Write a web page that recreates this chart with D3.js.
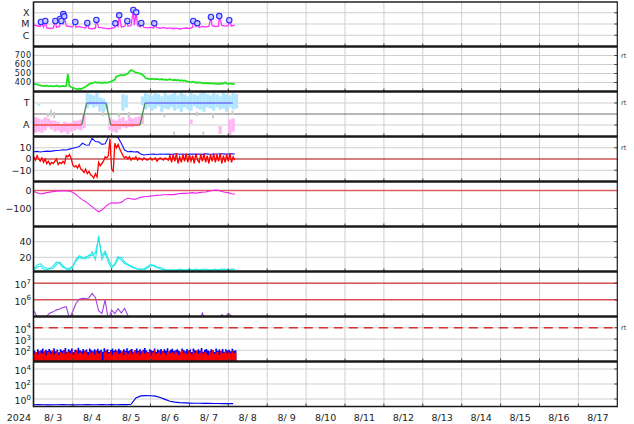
<!DOCTYPE html>
<html><head><meta charset="utf-8">
<script src="https://cdn.jsdelivr.net/npm/d3@7"></script>
<style>body{margin:0;background:#fff}svg{display:block;font-family:'DejaVu Sans',sans-serif}</style>
</head><body><svg id="c" width="634" height="424"></svg>
<script>
// ---------------- DATA ----------------
const yearLabel = "2024";
const dayLabels = ["8/ 3","8/ 4","8/ 5","8/ 6","8/ 7","8/ 8","8/ 9","8/10","8/11","8/12","8/13","8/14","8/15","8/16","8/17"];

// X-ray flux (W/m2), 2-hour background + flare peaks
const xrayStep = 2;
const xrayBg = [8e-6,7e-6,6e-6,5.5e-6,4.5e-6,4e-6,4.5e-6,5e-6,6e-6,9e-6,
  7e-6,6e-6,5.5e-6,5e-6,6e-6,5e-6,4.5e-6,4e-6,3.8e-6,4.2e-6,
  5e-6,4.5e-6,4e-6,3.8e-6,4.2e-6,5e-6,6e-6,5.5e-6,6e-6,6.5e-6,
  7e-6,8e-6,7e-6,5.5e-6,5e-6,4.5e-6,5e-6,4.5e-6,4.8e-6,4.2e-6,
  5e-6,4e-6,4.5e-6,3.8e-6,4.2e-6,3.6e-6,4e-6,4.4e-6,4e-6,5e-6,
  6e-6,5e-6,6e-6,5.5e-6,6e-6,7e-6,6e-6,6.5e-6,7.5e-6,6.5e-6,
  7e-6,6.5e-6,8e-6];
const flareHours = [4.4,7.1,13.3,16.2,17.0,18.2,18.8,25.6,33.0,38.6,50.3,52.7,57.7,61.4,63.2,66.3,74.3,98.4,100.9,109.3,114.4,120.6];
const flareFlux = [1.5e-5,1.85e-5,1.85e-5,2.8e-5,1.85e-5,7.7e-5,4.8e-5,1.5e-5,1.23e-5,2.3e-5,1.15e-5,5.9e-5,1.85e-5,1.75e-4,1.1e-4,1.23e-5,1.15e-5,1.85e-5,1.15e-5,4.2e-5,5.1e-5,2.15e-5];

// Solar wind speed (km/s), hourly
const windStep = 1;
const wind = [386,382,378,372,368,364, 362,360,364,358,360,362, 358,360,364,360,356,360,
  362,358,362,494,360,350, 342,336,330,326,332,328, 334,344,352,366,380,388,
  394,400,404,396,402,398, 394,398,402,396,400,406, 412,424,430,468,472,480,
  484,478,486,490,500,520, 538,530,520,512,506,500, 496,488,470,450,444,440,
  436,442,438,434,440,436, 432,438,430,434,428,432, 436,430,426,430,424,428,
  420,426,418,422,414,410, 406,402,410,404,400,396, 402,398,394,392,396,390,
  394,388,392,386,390,384, 388,384,392,386,402,388, 384,390,386,382,388];

// IMF sector (T = +1, A = -1), 2-hour ranges
const phiStep = 2;
const phiBlueHi = [null,0.9,null,null,null,null,null,null,null,null,null,null,null,null,null,null,
  1.9,1.8,1.7,1.9,1.5,1.4,1.1,null,null,null,null,1.8,1.7,null,null,null,null,1.6,
  1.9,1.8,1.7,1.9,1.8,1.6,1.9,1.7,1.8,2.0,1.7,1.9,1.8,1.6,1.9,1.8,1.7,1.9,2.0,1.8,1.7,1.9,1.8,1.6,1.9,1.8,1.7,1.9,1.8];
const phiBlueLo = [null,0.75,null,null,null,null,null,null,null,null,null,null,null,null,null,null,
  0.5,0.8,0.6,0.7,0.3,0.2,0.4,null,null,null,null,0.3,0.6,null,null,null,null,0.8,
  0.4,0.6,0.3,0.5,0.7,0.2,0.5,0.4,0.6,0.3,0.5,0.2,0.6,0.4,0.3,0.7,0.5,0.4,0.2,0.6,0.5,0.3,0.6,0.4,0.5,0.2,0.6,0.4,0.5];
const phiPinkHi = [-0.3,-0.4,-0.5,-0.3,-0.4,-0.6,-0.6,-0.7,-0.9,-0.7,-0.8,-0.8,-0.6,-0.6,-0.5,-0.1,
  null,null,null,null,null,null,null,-0.4,-0.5,-0.6,-0.4,-0.3,-0.6,-0.3,-0.4,-0.3,-0.2,-0.1,
  null,null,null,null,null,null,null,null,null,null,null,null,null,null,-0.5,
  null,null,null,null,null,null,null,null,-1.1,null,null,-0.5,-0.4,null];
const phiPinkLo = [-1.7,-1.6,-1.7,-1.5,-1.2,-1.4,-1.6,-1.5,-1.7,-1.6,-1.8,-1.6,-1.5,-1.4,-1.5,-1.3,
  null,null,null,null,null,null,null,-1.5,-1.6,-1.7,-1.4,-1.2,-1.3,-1.2,-1.2,-1.1,-1.0,-0.9,
  null,null,null,null,null,null,null,null,null,null,null,null,null,null,-0.9,
  null,null,null,null,null,null,null,null,-1.8,null,null,-1.9,-1.6,null];
const grayHours = [8,10,12,40,42,52,58,72,80,86,90,100,104,110,116,122];
const grayHi = [0.1,0.4,0.2,0.9,0.5,0.1,0.2,2.0,0.1,-1.6,2.0,0.2,-1.6,0.1,2.0,0.3];
const grayLo = [-0.3,-0.2,-0.4,0.2,-0.2,-0.3,-0.4,1.8,-0.3,-1.9,1.7,-0.2,-1.9,-0.4,1.8,-0.1];
const sectorHours = [0,29.5,32.6,44.5,47.6,65.5,68.6,122.7];
const sectorVals = [-1,-1,1,1,-1,-1,1,1];

// IMF Bt (2-hour) and Bz (hourly), nT
const btStep = 2;
const bt = [6.5,6.8,6.2,6.6,7.0,6.8,7.2,7.5,7.8,8.2,8.0,
  8.8,9.5,10.2,11.0,14.0,12.5,12.2,18.4,15.5,15.2,
  13.0,13.5,19.5,21,21,19.0,14.0,8.0,6.5,6.8,
  6.2,6.5,4.5,3.6,4.0,4.2,
  4.3,4.0,4.4,4.2,4.5,4.1,4.3,4.6,4.2,4.4,4.0,4.3,4.5,4.2,4.4,4.1,4.6,4.3,4.2,4.5,4.4,4.7,4.3,4.5,4.6,4.4];
const bzStep = 1;
const bz = [2,-1,3,0,-2,1, -3,0,-4,-2,-5,-3, -4,-2,0,-5,-3,-4, -2,-4,3,2,4,1,
  -5,-7,-6,-8,-5,-9, -10,-12,-9,-13,-11,-14, -15,-17,-13,-16,-3,-6, -4,-2,2,1,3,18,
  -9,-11,14,10,13,9, 6,3,1,2,0,2, -1,1,0,2,-1,1, 0,-1,1,0,-1,0, 1,-1,0,1,-2,0,
  1,0,-1,1,0,-1, 3,-3,4,-2,5,-4, 2,-3,4,-2,5,-3, 4,-2,3,-4,5,-1, -3,4,-2,5,-3,3,
  -4,4,-2,5,-3,4, -2,5,-4,3,-3,4, -2,5,-3,2,-1];

// Dst index (nT), 2-hour
const dstStep = 2;
const dst = [-6,-12,-19,-16,-12,-9,-6,-4,-2,-1, -3,-4,-10,-22,-38,-52,-62,-76,-90,-105,
  -118,-108,-92,-76,-68,-70,-69,-66,-52,-43, -46,-49,-44,-38,-35,-33,-31,-29,-27,-26,
  -24,-24,-22,-23,-20,-17,-15,-16,-14,-12, -15,-12,-10,-8,-4,0,3,1,-6,-10, -12,-18,-20];

// Sixth panel (two series), 2-hour
const cyanStep = 2;
const cyanA = [6,10,12,8,6,6,9,14,12,7, 6,6,9,15,20,18,21,19,27,17, 48,17,26,14,6,12,21,16,12,10,
  8,6,5,4,4,6,9,10,8,7, 5,4,3,4,3,4,3,4,5,3, 4,3,5,4,3,4,5,3,4,5, 4,5,4];
const cyanB = [4,7,9,5,4,5,6,11,14,9, 5,4,7,17,22,20,18,23,22,26, 44,22,28,18,9,10,18,20,14,11,
  9,7,5,5,5,8,11,9,7,5, 4,3,4,3,4,5,4,3,4,4, 5,4,3,5,4,3,4,4,5,4, 3,4,5];

// Electron flux, 2-hour
const elecStep = 2;
const elec = [2.2e5,1.0e5,5e4,5e4,1.1e5,1.6e5,1.9e5,2.5e5,2.8e5,3.5e5,
  3.9e5,8e4,2.0e5,6.0e5,1.1e6,1.25e6,1.2e6,1.3e6,2.4e6,1.4e6,
  2.2e5,1.5e5,9.8e5,6e4,2.4e5,1.5e5,2.9e5,1.6e5,3.1e5,1.2e5,
  5e4,5e4,5e4,5e4,5e4,5e4,5e4,5e4,5e4,5e4,5e4,5e4,5e4,5e4,5e4,5e4,5e4,5e4,5e4,5e4,5e4,5e4,
  1.6e5,5e4,5e4,5e4,5e4,5e4,1.3e5,9e4,1.5e5,1.1e5,5e4];

// Eighth panel (two series), hourly
const p8Step = 1;
const p8Red = [55,70,40,85,60,48,90,35,66,72, 50,95,44,60,80,38,70,56,100,45,
  62,75,52,88,40,65,110,50,72,58, 46,92,64,36,78,54,68,42,85,60,
  50,74,12,66,90,48,58,80,40,70, 62,95,46,56,84,38,72,60,50,88,
  44,66,105,52,76,40,62,90,48,70, 56,82,35,64,98,50,60,76,44,86,
  58,40,70,92,54,66,48,80,62,38, 74,100,52,68,46,84,60,42,78,56,
  95,50,64,88,44,70,58,36,82,60, 105,48,66,74,40,90,56,62,80,46, 70,52,86,58,64];
const p8Blue = [90,60,120,75,100,140,70,110,85,130, 95,70,150,80,115,65,125,90,105,160,
  75,120,95,140,70,110,85,170,100,80, 130,90,115,70,145,100,80,125,95,135,
  85,110,75,150,95,120,70,105,140,90, 115,80,135,100,70,125,90,150,85,110,
  130,75,100,145,90,120,80,110,160,95, 70,125,100,85,140,75,115,95,130,80,
  120,90,150,70,110,135,85,100,125,90, 75,140,105,80,130,95,115,70,145,100,
  85,120,90,160,75,110,130,95,80,125, 100,70,140,90,115,85,130,75,120,95, 110,80,135,90,100];

// Ninth panel, 3-hour
const p9Step = 3;
const p9 = [0.17,0.18,0.17,0.16,0.17,0.17,0.18,0.17,0.16,0.17,
  0.17,0.18,0.17,0.17,0.18,0.17,0.18,0.17,0.18,0.18,
  0.2,1.4,2.6,2.8,2.7,2.4,1.6,0.9,0.5,0.38,
  0.32,0.3,0.28,0.27,0.27,0.26,0.26,0.25,0.25,0.24, 0.25,0.24];

// ---------------- DRAW ----------------
const HOUR = 3600e3, DAY = 24*HOUR, T0 = Date.UTC(2024,7,3);
const th = h => new Date(T0 + h*HOUR);
const ser = (arr, step) => arr.map((v,i)=>({h:i*step, v}));
const svg = d3.select("#c");
const X0 = 33.8, X1 = 617.3, PH = 45;
const x = d3.scaleUtc().domain([new Date(T0), new Date(T0+15*DAY)]).range([X0, X1]);
const ptop = i => 1.5 + i*PH;
const GRID = "#cfcfcf", TXT = "#222";

const panels = [
  {s:d3.scaleLog().domain([1e-7,1e-3]), grid:[1e-6,1e-5,1e-4], labels:[[1e-4,"X"],[1e-5,"M"],[1e-6,"C"]], lx:29.5},
  {s:d3.scaleLinear().domain([300,800]), grid:[400,500,600,700], labels:[[700,"700"],[600,"600"],[500,"500"],[400,"400"]], fs:8, ls:0.5},
  {s:d3.scaleLinear().domain([-2.045,2.045]), grid:[1,-1], labels:[[1,"T"],[-1,"A"]], lx:29.5},
  {s:d3.scaleLinear().domain([-20,20]), grid:[10,-10], labels:[[10,"10"],[0,"0"],[-10,"\u221210"]]},
  {s:d3.scaleLinear().domain([-200,50]), grid:[-100], labels:[[0,"0"],[-100,"\u2212100"]]},
  {s:d3.scaleLinear().domain([1.8,59.5]), grid:[20,40], labels:[[40,"40"],[20,"20"]]},
  {s:d3.scaleLog().domain([1e5,5e7]), grid:[1e6,1e7], labels:[[1e7,"7"],[1e6,"6"]], sup:true},
  {s:d3.scaleLog().domain([10,1e5]), grid:[1e2,1e3,1e4], labels:[[1e4,"4"],[1e3,"3"],[1e2,"2"]], sup:true},
  {s:d3.scaleLog().domain([0.1,1e5]), grid:[1,1e2,1e4], labels:[[1e4,"4"],[1e2,"2"],[1,"0"]], sup:true},
];
panels.forEach((p,i)=>{ p.s.range([ptop(i)+PH, ptop(i)]); });

const defs = svg.append("defs");
panels.forEach((p,i)=>{
  defs.append("clipPath").attr("id","clip"+i).append("rect")
    .attr("x",X0).attr("y",ptop(i)).attr("width",X1-X0).attr("height",PH);
});

const gGrid = svg.append("g");
for (let d=1; d<15; d++) {
  gGrid.append("line").attr("x1",x(new Date(T0+d*DAY))).attr("x2",x(new Date(T0+d*DAY)))
    .attr("y1",ptop(0)).attr("y2",ptop(9)).attr("stroke",GRID).attr("stroke-width",1);
}
panels.forEach((p,i)=>{
  p.grid.forEach(v=>{
    gGrid.append("line").attr("x1",X0).attr("x2",X1).attr("y1",p.s(v)).attr("y2",p.s(v))
      .attr("stroke",GRID).attr("stroke-width",1);
    gGrid.append("line").attr("x1",X1-3).attr("x2",X1).attr("y1",p.s(v)).attr("y2",p.s(v))
      .attr("stroke","#444").attr("stroke-width",1);
  });
  p.labels.forEach(([v,t])=>{
    const y = p.s(v);
    if (p.sup) {
      const tx = svg.append("text").attr("x",31).attr("y",y+5).attr("text-anchor","end")
        .attr("font-size","9.5px").attr("fill",TXT);
      tx.append("tspan").text("10");
      tx.append("tspan").attr("dy",-4.5).attr("font-size","7px").text(t);
    } else {
      const fs = p.fs || 9.5;
      svg.append("text").attr("x",p.lx||31.5).attr("y",y+fs*0.36).attr("text-anchor","end")
        .attr("font-size",fs+"px").attr("letter-spacing",(p.ls||0)+"px").attr("fill",TXT).text(t);
    }
  });
});

const ref = svg.append("g");
ref.append("line").attr("x1",X0).attr("x2",X1).attr("y1",panels[2].s(0)).attr("y2",panels[2].s(0)).attr("stroke","#6e6e6e").attr("stroke-width",1.2);
ref.append("line").attr("x1",X0).attr("x2",X1).attr("y1",panels[3].s(0)).attr("y2",panels[3].s(0)).attr("stroke","#b00000").attr("stroke-width",1);
ref.append("line").attr("x1",X0).attr("x2",X1).attr("y1",panels[4].s(0)).attr("y2",panels[4].s(0)).attr("stroke","#e06060").attr("stroke-width",1.5);
[1e6,1e7].forEach(v=>ref.append("line").attr("x1",X0).attr("x2",X1).attr("y1",panels[6].s(v)).attr("y2",panels[6].s(v)).attr("stroke","#d01010").attr("stroke-width",1));
ref.append("line").attr("x1",X0).attr("x2",X1).attr("y1",panels[7].s(1e4)).attr("y2",panels[7].s(1e4)).attr("stroke","#d83030").attr("stroke-width",1.5).attr("stroke-dasharray","9,6");

const lineFor = (s) => d3.line().defined(d=>d.v!=null).x(d=>x(th(d.h))).y(d=>s(d.v));
const G = i => svg.append("g").attr("clip-path",`url(#clip${i})`);

// Panel 0: X-ray
{
  const s = panels[0].s, g = G(0);
  const pts = ser(xrayBg, xrayStep).concat(flareHours.map((h,i)=>({h, v:flareFlux[i]}))).sort((a,b)=>a.h-b.h);
  g.append("path").attr("d",lineFor(s)(pts)).attr("fill","none").attr("stroke","#ff33ff").attr("stroke-width",1.3);
  flareHours.forEach((h,i)=>{
    g.append("circle").attr("cx",x(th(h))).attr("cy",s(flareFlux[i])).attr("r",2.7)
      .attr("fill","#c8c8ff").attr("stroke","#2828ff").attr("stroke-width",1.1);
  });
}
// Panel 1: wind
{
  const s = panels[1].s, g = G(1);
  g.append("path").attr("d",lineFor(s)(ser(wind,windStep))).attr("fill","none").attr("stroke","#22e022").attr("stroke-width",1.8);
}
// Panel 2: sector
{
  const s = panels[2].s, g = G(2);
  const w = x(th(phiStep)) - x(th(0));
  const band = (hi, lo, col) => hi.forEach((v,i)=>{
    if (v==null) return;
    g.append("rect").attr("x",x(th(i*phiStep))).attr("width",w).attr("y",s(v)).attr("height",s(lo[i])-s(v)).attr("fill",col);
  });
  grayHours.forEach((h,i)=>g.append("rect").attr("x",x(th(h))).attr("width",w*0.6).attr("y",s(grayHi[i])).attr("height",s(grayLo[i])-s(grayHi[i])).attr("fill","#cccccc"));
  band(phiPinkHi, phiPinkLo, "#ffb6f2");
  band(phiBlueHi, phiBlueLo, "#b0e6ff");
  for (let i=0;i<sectorHours.length-1;i++){
    const a=sectorVals[i], b=sectorVals[i+1];
    const col = a!==b ? "#4f8f4f" : (a<0 ? "#f04848" : "#6f6fff");
    g.append("line").attr("x1",x(th(sectorHours[i]))).attr("x2",x(th(sectorHours[i+1])))
      .attr("y1",s(a)).attr("y2",s(b)).attr("stroke",col).attr("stroke-width",1.3);
  }
}
// Panel 3: Bt / Bz
{
  const s = panels[3].s, g = G(3);
  g.append("path").attr("d",lineFor(s)(ser(bt,btStep))).attr("fill","none").attr("stroke","#1010ff").attr("stroke-width",1.1);
  g.append("path").attr("d",lineFor(s)(ser(bz,bzStep))).attr("fill","none").attr("stroke","#ff0000").attr("stroke-width",1.3);
}
// Panel 4: Dst
{
  const s = panels[4].s, g = G(4);
  g.append("path").attr("d",lineFor(s)(ser(dst,dstStep))).attr("fill","none").attr("stroke","#ee22ee").attr("stroke-width",1.1);
}
// Panel 5
{
  const s = panels[5].s, g = G(5);
  g.append("path").attr("d",lineFor(s)(ser(cyanA,cyanStep))).attr("fill","none").attr("stroke","#22e8e8").attr("stroke-width",1.1);
  g.append("path").attr("d",lineFor(s)(ser(cyanB,cyanStep))).attr("fill","none").attr("stroke","#22e8e8").attr("stroke-width",1.1);
}
// Panel 6
{
  const s = panels[6].s, g = G(6);
  g.append("path").attr("d",lineFor(s)(ser(elec,elecStep))).attr("fill","none").attr("stroke","#a040d8").attr("stroke-width",1.1);
}
// Panel 7
{
  const s = panels[7].s, g = G(7);
  const area = d3.area().curve(d3.curveStepAfter).x(d=>x(th(d.h))).y0(ptop(7)+PH).y1(d=>s(d.v));
  const ext = (arr) => { const a = ser(arr,p8Step); a.push({h:arr.length*p8Step, v:arr[arr.length-1]}); return a; };
  g.append("path").attr("d",area(ext(p8Blue))).attr("fill","#0000ff");
  g.append("path").attr("d",area(ext(p8Red))).attr("fill","#ff0000");
}
// Panel 8
{
  const s = panels[8].s, g = G(8);
  g.append("path").attr("d",lineFor(s)(ser(p9,p9Step))).attr("fill","none").attr("stroke","#0000ee").attr("stroke-width",1.2);
}

// frame
const fr = svg.append("g");
for (let i=0;i<9;i++){
  for (let d=1; d<15; d++){
    const xx = x(new Date(T0+d*DAY));
    fr.append("line").attr("x1",xx).attr("x2",xx).attr("y1",ptop(i)+PH-3).attr("y2",ptop(i)+PH).attr("stroke","#444");
  }
}
fr.append("line").attr("x1",X0).attr("x2",X1).attr("y1",ptop(0)+0.5).attr("y2",ptop(0)+0.5).attr("stroke","#222").attr("stroke-width",1.5);
for (let i=1;i<9;i++) fr.append("line").attr("x1",X0).attr("x2",X1).attr("y1",ptop(i)).attr("y2",ptop(i)).attr("stroke","#1a1a1a").attr("stroke-width",2.4);
fr.append("line").attr("x1",X0).attr("x2",X1).attr("y1",ptop(9)).attr("y2",ptop(9)).attr("stroke","#1a1a1a").attr("stroke-width",1.6);
fr.append("line").attr("x1",X0-0.3).attr("x2",X0-0.3).attr("y1",ptop(0)).attr("y2",ptop(9)+0.8).attr("stroke","#1a1a1a").attr("stroke-width",1.6);
fr.append("line").attr("x1",X1).attr("x2",X1).attr("y1",ptop(0)).attr("y2",ptop(9)+0.8).attr("stroke","#1a1a1a").attr("stroke-width",1.2);

[[1,700],[2,1],[3,10],[7,1e4]].forEach(([i,v])=>{
  svg.append("text").attr("x",621).attr("y",panels[i].s(v)+2).attr("font-size","6.5px").attr("fill","#333").text("rt");
});

svg.append("text").attr("x",31).attr("y",420.5).attr("text-anchor","end").attr("font-size","9.5px").attr("fill",TXT).text(yearLabel);
dayLabels.forEach((t,d)=>{
  svg.append("text").attr("x",x(new Date(T0+d*DAY+DAY/2))).attr("y",420.5).attr("text-anchor","middle")
    .attr("font-size","9.5px").attr("fill",TXT).text(t);
});
</script>
</body></html>
